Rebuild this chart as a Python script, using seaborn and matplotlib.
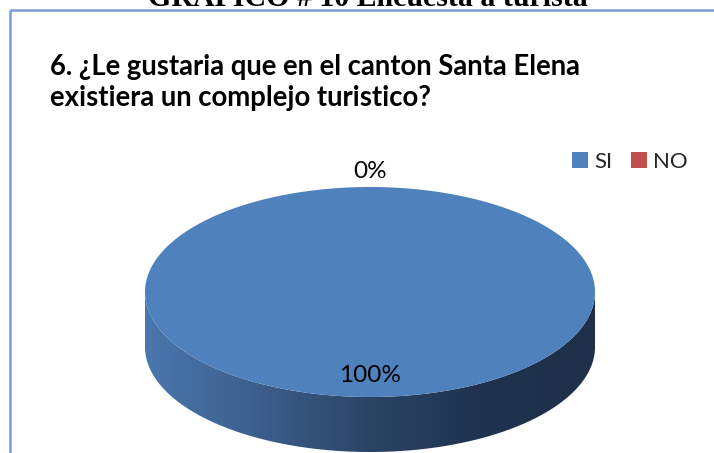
import numpy as np
import matplotlib
matplotlib.use("Agg")
import matplotlib.pyplot as plt
from matplotlib.patches import Polygon, Rectangle
from matplotlib.colors import LinearSegmentedColormap
import seaborn as sns

# ---- data ----
header = "GRAFICO # 10 Encuesta a turista"
title_lines = ["6. ¿Le gustaria que en el canton Santa Elena",
               "existiera un complejo turistico?"]
categories = ["SI", "NO"]
values = [100, 0]
slice_colors = ["#4f81bd", "#c0504d"]

sns.set_theme(style="white")
plt.rcParams["font.family"] = ["Lato", "DejaVu Sans"]

W, H = 714, 453
fig = plt.figure(figsize=(W / 100, H / 100), dpi=100)
ax = fig.add_axes([0, 0, 1, 1])
ax.set_xlim(0, W)
ax.set_ylim(H, 0)
ax.axis("off")

# chart frame (top and left edges visible)
frame_col = "#7a9ed4"
ax.plot([10, 10], [10, H], color=frame_col, lw=1.8, solid_capstyle="butt")
ax.plot([10, W], [10, 10], color=frame_col, lw=1.8, solid_capstyle="butt")

# caption above the frame, partly cut by the image edge
ax.text(368, 6, header, family="Liberation Serif", fontweight="bold",
        fontsize=21.5, ha="center", va="baseline", color="black")

# chart title
ax.text(50, 75, title_lines[0], fontsize=19.8, fontweight="bold",
        va="baseline", color="black")
ax.text(50, 106, title_lines[1], fontsize=19.8, fontweight="bold",
        va="baseline", color="black")

# ---- 3D pie ----
cx, cy, rx, ry, depth = 370, 292, 225, 105, 55


def ell(theta_deg, scale=1.0, dy=0.0):
    t = np.radians(theta_deg)
    return cx + scale * rx * np.sin(t), cy - scale * ry * np.cos(t) + dy


total = float(sum(values))
fracs = [v / total for v in values]
bounds = np.concatenate([[0.0], np.cumsum(fracs) * 360.0])

side_cmap = LinearSegmentedColormap.from_list(
    "side", ["#4a77ae", "#3d5f8c", "#2a4464", "#1f3250", "#1e3049"])

# side walls (front half of the ellipse only)
for i, f in enumerate(fracs):
    a0, a1 = max(bounds[i], 90.0), min(bounds[i + 1], 270.0)
    if f <= 0 or a1 <= a0:
        continue
    th = np.linspace(a0, a1, 200)
    xt, yt = ell(th)
    xb, yb = ell(th[::-1], dy=depth)
    verts = np.column_stack([np.r_[xt, xb], np.r_[yt, yb]])
    poly = Polygon(verts, closed=True, facecolor="none", edgecolor="none")
    ax.add_patch(poly)
    grad = np.linspace(0, 1, 256)[None, :]
    im = ax.imshow(grad, cmap=side_cmap, aspect="auto",
                   extent=[cx - rx, cx + rx, cy + ry + depth, cy - 5],
                   interpolation="bilinear", zorder=2)
    im.set_clip_path(poly)

# top faces
for i, f in enumerate(fracs):
    if f <= 0:
        continue
    th = np.linspace(bounds[i], bounds[i + 1], 400)
    xs, ys = ell(th)
    if f >= 1.0:
        verts = np.column_stack([xs, ys])
    else:
        verts = np.column_stack([np.r_[cx, xs], np.r_[cy, ys]])
    ax.add_patch(Polygon(verts, closed=True, facecolor=slice_colors[i],
                         edgecolor="none", zorder=3, antialiased=True))

# percentage labels
for i, f in enumerate(fracs):
    mid = (bounds[i] + bounds[i + 1]) / 2.0
    pct = f"{f * 100:.0f}%"
    if f < 0.05:
        lx, ly = ell(mid, scale=1.15)
    else:
        lx, ly = ell(mid, scale=0.80)
    ax.text(lx, ly, pct, fontsize=17.5, ha="center", va="center",
            color="black", zorder=5)

# legend
handles = [Rectangle((0, 0), 1, 1, facecolor=c, edgecolor="none")
           for c in slice_colors]
leg = ax.legend(handles, categories, loc="center left",
                bbox_to_anchor=(572 / W, 1 - 162 / H), ncol=2, frameon=False,
                fontsize=16, handlelength=0.72, handleheight=0.72,
                handletextpad=0.3, columnspacing=0.8, borderaxespad=0,
                borderpad=0)

fig.savefig("out.png", dpi=100, facecolor="white")
